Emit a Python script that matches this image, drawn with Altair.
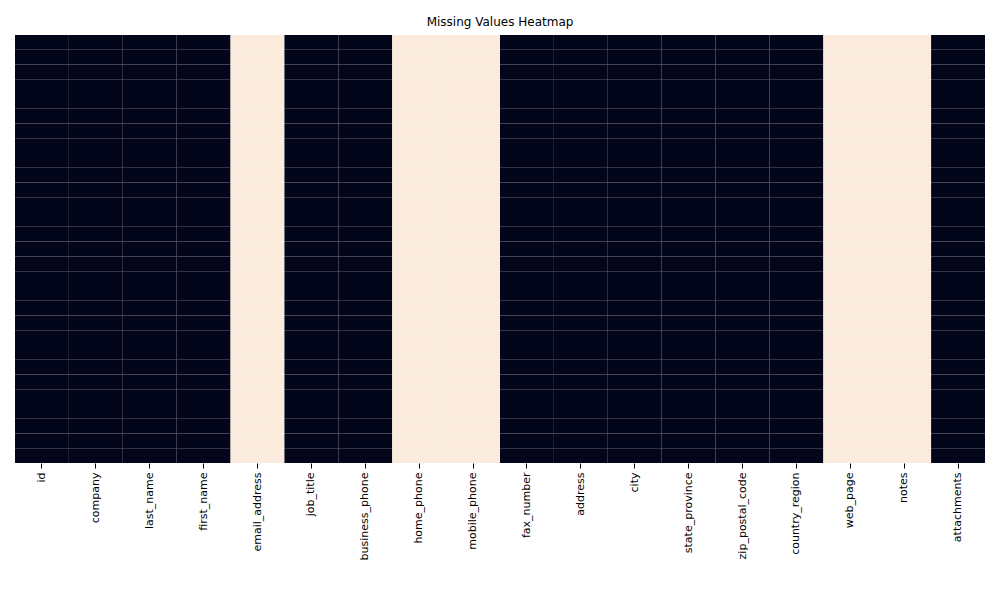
import altair as alt
import pandas as pd

columns = ["id","company","last_name","first_name","email_address","job_title",
           "business_phone","home_phone","mobile_phone","fax_number","address","city",
           "state_province","zip_postal_code","country_region","web_page","notes","attachments"]
missing_cols = ["email_address","home_phone","mobile_phone","web_page","notes"]
n_rows = 29

rows = []
for r in range(n_rows):
    for c in columns:
        rows.append({"col": c, "row": r, "missing": 1 if c in missing_cols else 0})
df = pd.DataFrame(rows)

chart = alt.Chart(df).mark_rect().encode(
    x=alt.X("col:N", sort=columns, title=None,
            axis=alt.Axis(labelAngle=270, labelFontSize=11, labelFont="DejaVu Sans",
                          labelColor="black", domain=False, tickColor="black", labelPadding=4)),
    y=alt.Y("row:O", axis=None),
    color=alt.Color("missing:Q", scale=alt.Scale(domain=[0,1], range=["#03051A","#FAEBDD"]), legend=None),
).properties(
    width=970, height=428,
    title=alt.Title("Missing Values Heatmap", font="DejaVu Sans", fontSize=12, fontWeight="normal", offset=6),
    padding={"left": 7, "top": 8, "right": 7, "bottom": 5},
).configure_view(stroke=None).configure_scale(bandPaddingInner=0, bandPaddingOuter=0)

chart.save("out.html", embed_options={"renderer": "svg", "actions": False})
